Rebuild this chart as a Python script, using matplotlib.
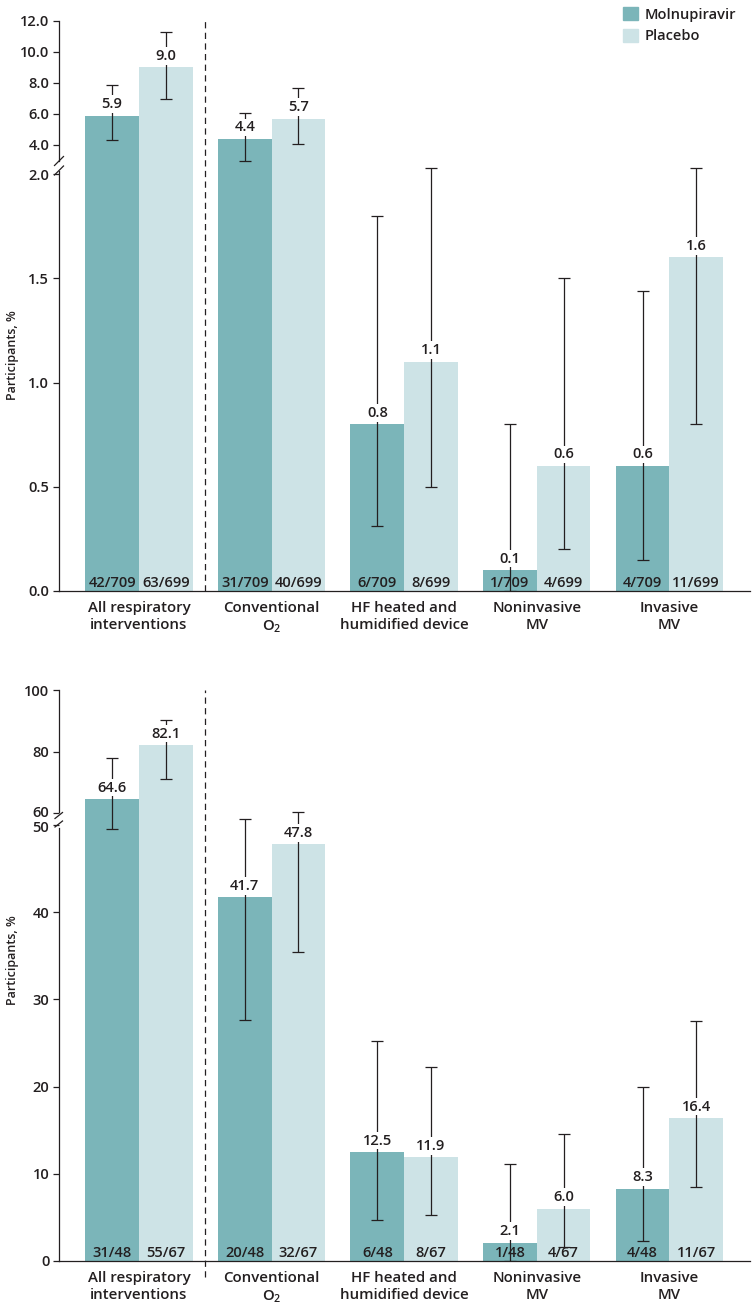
import numpy as np
import matplotlib
matplotlib.use("Agg")
import matplotlib.pyplot as plt
import matplotlib.transforms as mtransforms
from matplotlib.patches import Patch
from matplotlib.lines import Line2D

plt.rcParams['font.family'] = ['Open Sans', 'DejaVu Sans']
plt.rcParams['font.weight'] = 'semibold'
plt.rcParams['mathtext.fontset'] = 'custom'
plt.rcParams['mathtext.rm'] = 'Open Sans:semibold'
plt.rcParams['mathtext.it'] = 'Open Sans:italic:semibold'
plt.rcParams['mathtext.bf'] = 'Open Sans:bold'

# data
categories = ["All respiratory\ninterventions", "Conventional\nO$_2$",
              "HF heated and\nhumidified device", "Noninvasive\nMV", "Invasive\nMV"]

# panel 1 (all participants)
p1_mol = [5.9, 4.4, 0.8, 0.1, 0.6]
p1_mol_lo = [4.3, 2.95, 0.31, 0.0, 0.15]
p1_mol_hi = [7.85, 6.05, 1.8, 0.8, 1.44]
p1_pla = [9.0, 5.7, 1.1, 0.6, 1.6]
p1_pla_lo = [6.95, 4.05, 0.5, 0.2, 0.8]
p1_pla_hi = [11.3, 7.65, 2.03, 1.5, 2.03]
p1_mol_n = ["42/709", "31/709", "6/709", "1/709", "4/709"]
p1_pla_n = ["63/699", "40/699", "8/699", "4/699", "11/699"]

# panel 2
p2_mol = [64.6, 41.7, 12.5, 2.1, 8.3]
p2_mol_lo = [49.5, 27.6, 4.7, 0.05, 2.3]
p2_mol_hi = [77.9, 56.8, 25.2, 11.1, 20.0]
p2_pla = [82.1, 47.8, 11.9, 6.0, 16.4]
p2_pla_lo = [71.0, 35.4, 5.3, 1.6, 8.5]
p2_pla_hi = [90.3, 60.5, 22.2, 14.6, 27.5]
p2_mol_n = ["31/48", "20/48", "6/48", "1/48", "4/48"]
p2_pla_n = ["55/67", "32/67", "8/67", "4/67", "11/67"]

c_mol = "#7bb5b9"
c_pla = "#cde3e6"
c_txt = "#231f20"

W, H = 753, 1307
fig = plt.figure(figsize=(W / 100, H / 100), dpi=100)


def fpx(x, y):
    return x / W, 1 - y / H


def broken_scale(lo_top, lo_slope, hi_bot, hi_slope, top):
    # piecewise-linear axis: lower part, tiny gap, upper part
    f_lo = lo_top * lo_slope
    f_hi = f_lo + 0.5
    xs = [-100, 0, lo_top, hi_bot, top, top + 1000]
    fs = [-100 * lo_slope, 0, f_lo, f_hi, f_hi + (top - hi_bot) * hi_slope,
          f_hi + (top + 1000 - hi_bot) * hi_slope]
    fwd = lambda v: np.interp(v, xs, fs)
    inv = lambda f: np.interp(f, fs, xs)
    return fwd, inv


def draw_panel(ax, mol, mol_lo, mol_hi, pla, pla_lo, pla_hi, mol_n, pla_n,
               ticks, fmt, ymax, dash_ext):
    x = np.arange(len(categories))
    w = 0.405
    mol = np.array(mol)
    pla = np.array(pla)
    ax.bar(x - w / 2, mol, w, color=c_mol, zorder=1)
    ax.bar(x + w / 2, pla, w, color=c_pla, zorder=1)
    ax.errorbar(x - w / 2, mol, yerr=[mol - np.array(mol_lo), np.array(mol_hi) - mol],
                fmt='none', ecolor=c_txt, elinewidth=0.9, capsize=4.4, capthick=0.9, zorder=3)
    ax.errorbar(x + w / 2, pla, yerr=[pla - np.array(pla_lo), np.array(pla_hi) - pla],
                fmt='none', ecolor=c_txt, elinewidth=0.9, capsize=4.4, capthick=0.9, zorder=3)
    for xi, v in zip(np.r_[x - w / 2, x + w / 2], np.r_[mol, pla]):
        ax.annotate(f"{v:.1f}", (xi, v), xytext=(0, 3.2), textcoords='offset points',
                    ha='center', va='bottom', fontsize=10.5, color=c_txt, zorder=4,
                    bbox=dict(boxstyle='square,pad=0.12', fc='white', ec='none'))
    for xi, s in zip(np.r_[x - w / 2, x + w / 2], mol_n + pla_n):
        ax.annotate(s, (xi, 0), xytext=(0, 2.6), textcoords='offset points',
                    ha='center', va='baseline', fontsize=10.5, color=c_txt, zorder=2)
    ax.axvline(0.5, ymin=dash_ext, ymax=1, color=c_txt, lw=0.9, dashes=(5, 3.5),
               clip_on=False, zorder=0)
    ax.set_xlim(-0.603, 4.608)
    ax.set_ylim(0, ymax)
    ax.set_yticks(ticks)
    ax.set_yticklabels([fmt % t for t in ticks])
    ax.set_xticks(x)
    ax.set_xticklabels(categories, linespacing=1.3)
    ax.tick_params(axis='x', length=0, pad=7, labelsize=10.8, labelcolor=c_txt)
    ax.tick_params(axis='y', length=4, width=0.9, direction='out', pad=3,
                   labelsize=10.5, labelcolor=c_txt, color=c_txt)
    for s in ['top', 'right', 'left']:
        ax.spines[s].set_visible(False)
    ax.spines['bottom'].set_color(c_txt)
    ax.spines['bottom'].set_linewidth(0.9)


def draw_break(spine_top, gap_top, gap_bot, spine_bot, s1, s2):
    lines = [
        [(59, spine_top), (59, gap_top)],
        [(59, gap_bot), (59, spine_bot)],
        s1, s2,
    ]
    for seg in lines:
        (x0, y0), (x1, y1) = seg
        a = fpx(x0, y0)
        b = fpx(x1, y1)
        fig.add_artist(Line2D([a[0], b[0]], [a[1], b[1]], color=c_txt, lw=0.9,
                              transform=fig.transFigure))


# top panel
ax1 = fig.add_axes([59 / W, 1 - 591 / H, 691 / W, 570 / H])
fwd, inv = broken_scale(2.0456, 208.5, 2.774, 15.5, 12.0)
ax1.set_yscale('function', functions=(fwd, inv))
draw_panel(ax1, p1_mol, p1_mol_lo, p1_mol_hi, p1_pla, p1_pla_lo, p1_pla_hi,
           p1_mol_n, p1_pla_n, [0, 0.5, 1.0, 1.5, 2.0, 4.0, 6.0, 8.0, 10.0, 12.0],
           "%.1f", 12.0, 0)
draw_break(21, 161, 171, 591, [(54.5, 165.5), (63.5, 156.5)], [(54.5, 175), (63.5, 166)])

# bottom panel
ax2 = fig.add_axes([59 / W, 1 - 1261 / H, 691 / W, 571 / H])
fwd2, inv2 = broken_scale(50.63, 8.72, 58.15, 3.083, 100.0)
ax2.set_yscale('function', functions=(fwd2, inv2))
draw_panel(ax2, p2_mol, p2_mol_lo, p2_mol_hi, p2_pla, p2_pla_lo, p2_pla_hi,
           p2_mol_n, p2_pla_n, [0, 10, 20, 30, 40, 50, 60, 80, 100],
           "%d", 100.0, -16 / 571)
draw_break(690, 812, 828, 1261, [(55, 818.5), (62.5, 812.5)], [(55, 827), (62.5, 821)])

# nudge the two labels next to the break apart a little
fig.canvas.draw()
for lab in ax2.get_yticklabels():
    if lab.get_text() == "60":
        lab.set_transform(lab.get_transform() + mtransforms.Affine2D().translate(0, 1.5))
    if lab.get_text() == "50":
        lab.set_transform(lab.get_transform() + mtransforms.Affine2D().translate(0, -1.5))
    lab.set_fontsize(10.5)

for yc in [355, 960]:
    fx, fy = fpx(13, yc)
    fig.text(fx, fy, "Participants, %", rotation=90, ha='center', va='center',
             fontsize=9, color=c_txt)

handles = [Patch(color=c_mol, label="Molnupiravir"), Patch(color=c_pla, label="Placebo")]
fig.legend(handles=handles, loc='upper left', bbox_to_anchor=fpx(623, 7), frameon=False,
           fontsize=10.5, handlelength=1.0, handleheight=1.0, handletextpad=0.5,
           labelspacing=0.5, borderpad=0, borderaxespad=0, labelcolor=c_txt)

fig.savefig("out.png", dpi=100)
